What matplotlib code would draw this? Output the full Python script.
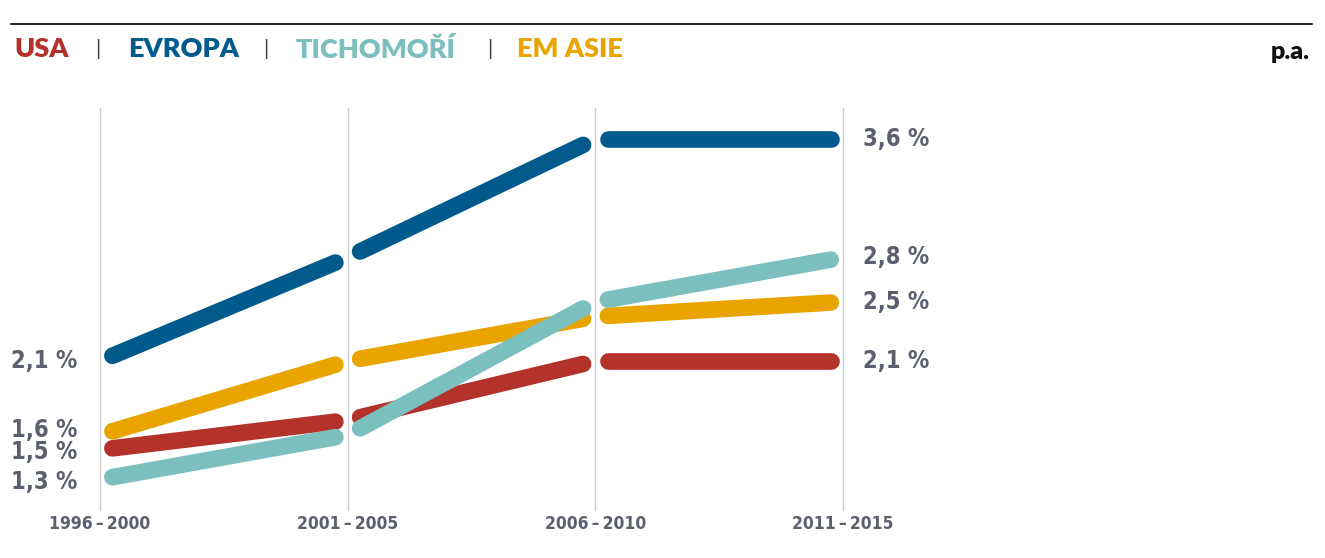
import matplotlib.pyplot as plt
import numpy as np

# Data: average annual growth (p.a.) per period
periods = ["1996\u2009–\u20092000", "2001\u2009–\u20092005",
           "2006\u2009–\u20092010", "2011\u2009–\u20092015"]
series_names = ["USA", "EVROPA", "TICHOMOŘÍ", "EM ASIE"]
usa = [1.5, 1.7, 2.1, 2.1]
evropa = [2.1, 2.8, 3.6, 3.6]
tichomori = [1.3, 1.6, 2.5, 2.8]
em_asie = [1.6, 2.1, 2.4, 2.5]

colors = {"USA": "#B3322A", "EVROPA": "#005A8C",
          "TICHOMOŘÍ": "#7BBFBE", "EM ASIE": "#E9A400"}
values = {"USA": usa, "EVROPA": evropa, "TICHOMOŘÍ": tichomori, "EM ASIE": em_asie}

label_gray = "#5C5F6E"
narrow = ["DejaVu Sans"]

W, H = 1325, 558
fig = plt.figure(figsize=(W / 100, H / 100), dpi=100)
ax = fig.add_axes([0, 0, 1, 1])
ax.set_xlim(-0.4037, 4.945)
ax.set_ylim(0.769, 4.539)
ax.axis("off")

x = np.arange(len(periods))

# vertical period lines
for xi in x:
    ax.plot([xi, xi], [1.093, 3.81], color="#CCCCCC", lw=1, zorder=1)

# broken segments between periods
gap = 0.05
for name in ["USA", "EM ASIE", "TICHOMOŘÍ", "EVROPA"]:
    v = values[name]
    for i in range(len(x) - 1):
        xs = np.array([x[i] + gap, x[i + 1] - gap])
        ys = np.interp(xs, x, v)
        ax.plot(xs, ys, color=colors[name], lw=12, solid_capstyle="round", zorder=3)

def fmt(val):
    return f"{val:.1f}".replace(".", ",") + " %"

# left labels (start values), nudged to avoid overlap
left_nudge = {"USA": -2, "EVROPA": 0, "TICHOMOŘÍ": -3, "EM ASIE": 5}
for name in series_names:
    ax.annotate(fmt(values[name][0]), (x[0], values[name][0]),
                xytext=(-23, left_nudge[name]), textcoords="offset pixels",
                ha="right", va="center", fontsize=17, fontweight="bold",
                fontstretch="condensed", color=label_gray, family=narrow)

# right labels (end values)
for name in series_names:
    ax.annotate(fmt(values[name][-1]), (x[-1], values[name][-1]),
                xytext=(20, 0), textcoords="offset pixels",
                ha="left", va="center", fontsize=17, fontweight="bold",
                fontstretch="condensed", color=label_gray, family=narrow)

# period labels
for xi, p in zip(x, periods):
    ax.text(xi, 1.0, p, ha="center", va="center", fontsize=12.5,
            fontweight="bold", fontstretch="condensed", color=label_gray, family=narrow)

# header rule
fig.add_artist(plt.Line2D([11 / W, 1312 / W], [1 - 24 / H, 1 - 24 / H],
                          color="black", lw=1.2))

# header legend
header_x = [14, 128, 296, 517]
sep_x = [98, 266, 490]
ty = 1 - 49 / H
for name, hx in zip(series_names, header_x):
    fig.text(hx / W, ty, name, color=colors[name], fontsize=19.5,
             fontweight="heavy", family=["Lato", "DejaVu Sans"], va="center", ha="left")
for sx in sep_x:
    fig.text(sx / W, ty, "|", color="#444444", fontsize=15,
             family=["Lato", "DejaVu Sans"], va="center", ha="center")
fig.text(1310 / W, 1 - 52 / H, "p.a.", color="#111111", fontsize=18,
         fontweight="heavy", family=["Lato", "DejaVu Sans"], va="center", ha="right")

fig.savefig("out.png", dpi=100)
